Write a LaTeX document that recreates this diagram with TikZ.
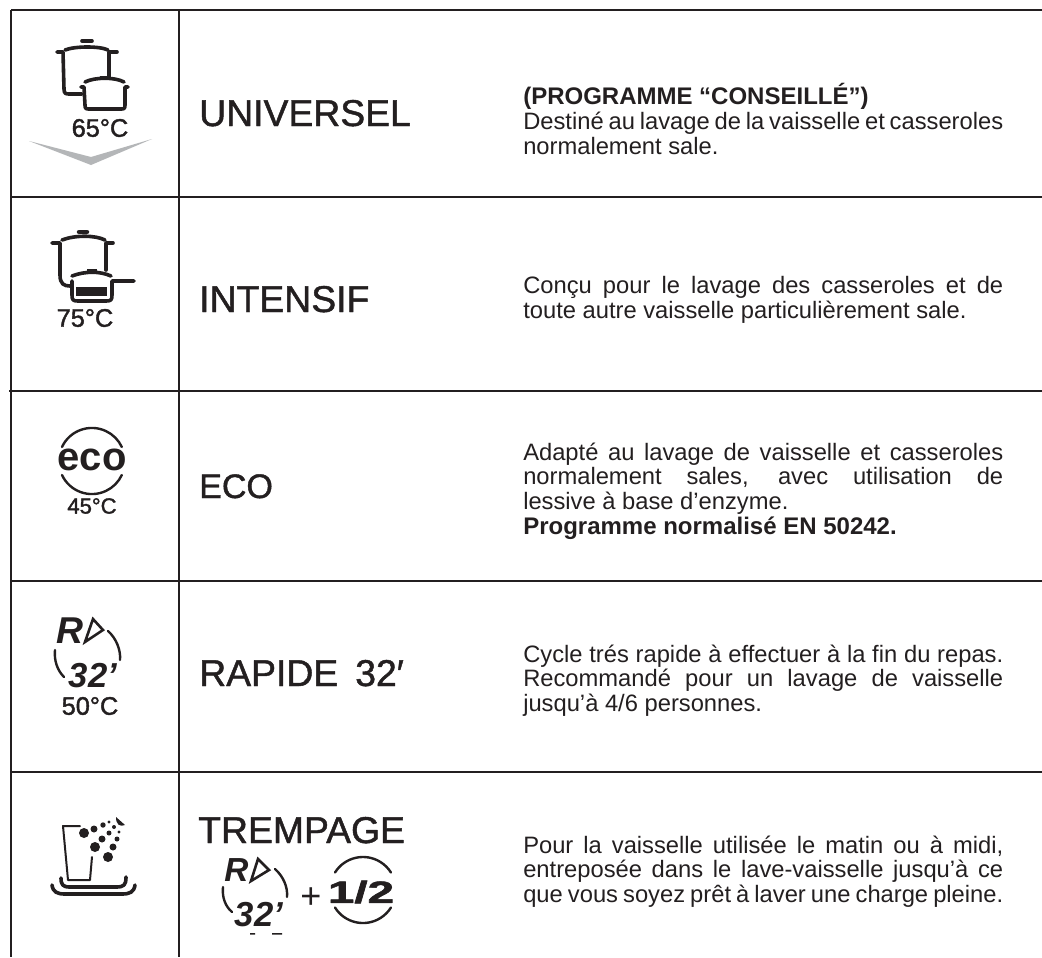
\documentclass[tikz,border=0pt]{standalone}
\usepackage{fontspec}
\usepackage{graphicx}
\setmainfont{Liberation Sans}
\newfontfamily\titlefont[FakeBold=1.2]{Liberation Sans}
\newfontfamily\tempfont[FakeBold=1.6]{Liberation Sans}
\definecolor{ink}{HTML}{231F20}
\definecolor{chev}{HTML}{B4B6B8}
\begin{document}
\begin{tikzpicture}[x=0.75pt,y=-0.75pt,line join=round,
  rule/.style={draw=ink,line width=2.7pt*0.75},
  pot/.style={draw=ink,line width=3.6pt*0.75,line cap=round},
  thin/.style={draw=ink,line width=2.4pt*0.75,line cap=round},
  temp/.style={text=ink,font=\tempfont\fontsize{19}{19}\selectfont,inner sep=0pt},
  symb/.style={text=ink,inner sep=0pt},
  title/.style={text=ink,font=\titlefont\fontsize{28}{28}\selectfont,anchor=base west,inner sep=0pt},
  desc/.style={text=ink,font=\fontsize{17.8}{18.45}\selectfont,anchor=west,inner sep=0pt,align=justify,text width=360pt},
  ]
\useasboundingbox (0,0) rectangle (1042,957);
\fill[white] (0,0) rectangle (1042,957);
% rules
\coordinate (tl) at (11,10); \coordinate (tr) at (1042,10);
\coordinate (bl) at (11,957); \coordinate (ct) at (179,10); \coordinate (cb) at (179,957);
\draw[rule] (tl)--(tr);
\draw[rule] (tl)--(bl);
\draw[rule] (ct)--(cb);
\draw[rule] (11,197)--(1042,197);
\draw[rule] (9,391)--(1042,391);
\draw[rule] (11,581)--(1042,581);
\draw[rule] (11,772)--(1042,772);
% titles
\node[title] (t1) at (199,126) {UNIVERSEL};
\node[title] (t2) at (199,312) {INTENSIF};
\node[title,font=\titlefont\fontsize{25.5}{25.5}\selectfont] (t3) at (199,498) {ECO};
\node[title] (t4) at (199,686) {RAPIDE\hspace{5pt} 32′};
\node[title] (t5) at (198,843) {TREMPAGE};
% descriptions
\node[desc] (d1) at (523,119) {{\fontsize{18}{18.45}\selectfont\textbf{(PROGRAMME “CONSEILLÉ”)}}\\ Destiné au lavage de la vaisselle et casseroles\linebreak normalement sale.};
\node[desc] (d2) at (523,300) {Conçu pour le lavage des casseroles et de\linebreak toute autre vaisselle particulièrement sale.};
\node[desc] (d3) at (523,491) {Adapté au lavage de vaisselle et casseroles\linebreak normalement sales, avec utilisation de\linebreak lessive à base d’enzyme.\\ {\fontsize{18}{18.45}\selectfont\textbf{Programme normalisé EN 50242.}}};
\node[desc] (d4) at (523,680.5) {Cycle trés rapide à effectuer à la fin du repas.\linebreak Recommandé pour un lavage de vaisselle\linebreak jusqu'à 4/6 personnes.};
\node[desc] (d5) at (523,871.5) {Pour la vaisselle utilisée le matin ou à midi,\linebreak entreposée dans le lave-vaisselle jusqu'à ce\linebreak que vous soyez prêt à laver une charge pleine.};
% icon 1
\draw[pot] (82,41)--(92,41);
\draw[pot] (65,50) .. controls (75,46) and (100,46) .. (108,50);
\draw[pot] (57,52)--(63,52) (63,52)--(64,89) .. controls (64,94) and (66,94) .. (70,94)--(82,94);
\draw[pot] (117,52)--(109,52)--(109,78);
\draw[pot] (85,82) .. controls (95,77) and (115,77) .. (124,82);
\draw[pot] (81,87)--(84,87)--(85,105) .. controls (85,109) and (86,109) .. (90,109)--(120,109) .. controls (124,109) and (125,109) .. (125,105)--(125,87)--(128,87);
\fill[ink] (100,76) rectangle (108,79);
\node[temp] (n1) at (100,128) {65°C};
\fill[chev] (29,141)--(91,165)--(152,139)--(91,157)--cycle;
% icon 2
\draw[pot,line width=4.5pt*0.75] (79,232)--(87,232);
\draw[pot] (62,240) .. controls (75,235) and (95,235) .. (105,240);
\draw[pot] (52,243)--(60,243)--(60,275) .. controls (60,284) and (64,286) .. (70,286);
\draw[pot] (113,243)--(106,243)--(106,270);
\draw[pot] (72,276) .. controls (85,271) and (100,271) .. (111,276);
\fill[ink] (87,269) rectangle (97,274);
\draw[pot] (72,281)--(72,295) .. controls (72,300) and (73,301) .. (78,301)--(106,301) .. controls (111,301) and (112,300) .. (112,295)--(112,281)--(134,281);
\fill[ink] (76,287) rectangle (107,296);
\node[temp] (n2) at (85,318) {75°C};
% icon 3
\node[symb,font=\bfseries\fontsize{30}{30}\selectfont] (n3) at (92,460) {eco};
\draw[thin] (62,447) arc[start angle=-155,end angle=-25,radius=33];
\draw[thin] (62,475) arc[start angle=155,end angle=25,radius=33];
\node[temp,font=\tempfont\fontsize{16.5}{16.5}\selectfont] (n3b) at (92,506) {45°C};
% icon 4
\node[symb,font=\bfseries\itshape\fontsize{28}{28}\selectfont] (n4) at (70,631) {R};
\draw[ink,line width=2.6pt*0.75,line join=miter] (85,642)--(93,619)--(103,630)--cycle;
\draw[thin] (108,631) .. controls (116,638) and (121,650) .. (120,660);
\draw[thin] (55,650) .. controls (54,660) and (57,670) .. (64,677);
\node[symb,font=\bfseries\itshape\fontsize{26}{26}\selectfont] (n4b) at (93,676) {32’};
\node[temp] (n4c) at (90,706) {50°C};
% icon 5
\draw[thin,line width=2pt*0.75] (80,826)--(63,826)--(68,880)--(90,880)--(92,857);
\draw[pot] (61,878) .. controls (61,885) and (63,887) .. (70,887)--(116,887) .. controls (124,887) and (126,885) .. (126,877);
\draw[pot] (52,885) .. controls (53,892) and (57,894) .. (65,894)--(122,894) .. controls (130,894) and (134,892) .. (135,885);
\foreach \x/\y/\r in {84/833/5,94/829/3.5,103/825/2.7,109/822/1.7,114/827/2,119/832/1.7,109/833/2.5,102/839/3.5,117/839/2.5,95/847/5,113/847/3.5,108/857/5}
  \fill[ink] (\x,\y) circle[radius=\r];
\fill[ink] (116,817) -- (125,825) .. controls (120,827) and (116,825) .. (116,817) -- cycle;
% trempage symbols
\node[symb,font=\bfseries\itshape\fontsize{25}{25}\selectfont] (n5) at (236.5,870) {R};
\draw[ink,line width=2.6pt*0.75,line join=miter] (251,881)--(258,859)--(269,870)--cycle;
\draw[thin] (275,869) .. controls (283,876) and (288,887) .. (287,897);
\draw[thin] (223,887) .. controls (222,897) and (225,906) .. (232,912);
\node[symb,font=\bfseries\itshape\fontsize{26}{26}\selectfont] (n5b) at (259,915) {32’};
\node[symb,font=\fontsize{27}{27}\selectfont] (plus) at (311,898) {+};
\node[symb,font=\tempfont\bfseries\fontsize{23}{23}\selectfont] (half) at (361,892) {\scalebox{1.55}[1]{1/2}};
\draw[thin] (335,872.5) arc[start angle=-148,end angle=-32,radius=33];
\draw[thin] (335,907.5) arc[start angle=148,end angle=32,radius=33];
\fill[ink] (250,933) rectangle (255,934.5) (272,933) rectangle (282,934.5);
\end{tikzpicture}
\end{document}
